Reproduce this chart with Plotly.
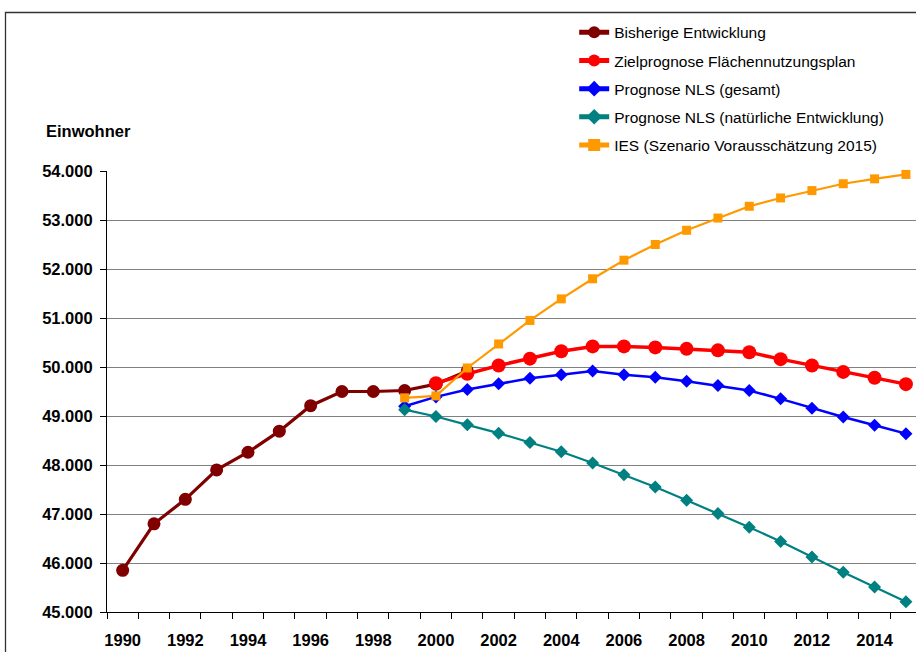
import plotly.graph_objects as go

# Population history and forecasts (inhabitants per year)
years_hist = list(range(1990, 2002))
hist = [45850, 46800, 47300, 47900, 48260, 48690, 49210, 49500, 49500, 49520, 49650, 49920]

years_ziel = list(range(2000, 2016))
ziel = [49670, 49860, 50030, 50170, 50320, 50420, 50420, 50400, 50370, 50340,
        50300, 50160, 50030, 49900, 49780, 49650]

years_nls = list(range(1999, 2016))
nls_total = [49200, 49390, 49540, 49660, 49770, 49840, 49920, 49840, 49790, 49710,
             49620, 49520, 49350, 49160, 48980, 48810, 48640]
nls_natural = [49130, 48990, 48820, 48650, 48460, 48270, 48040, 47800, 47550, 47280,
               47010, 46730, 46440, 46120, 45810, 45510, 45210]

years_ies = list(range(1999, 2016))
ies = [49370, 49410, 49980, 50470, 50950, 51390, 51800, 52180, 52500, 52790,
       53040, 53280, 53450, 53600, 53740, 53840, 53930]

x_ticks = list(range(1990, 2016, 2))
y_ticks = list(range(45000, 54001, 1000))

FONT = "Arial, Liberation Sans, sans-serif"

fig = go.Figure()

series = [
    ("Bisherige Entwicklung", years_hist, hist, "#800000", 3.2, "circle", 13),
    ("Zielprognose Flächennutzungsplan", years_ziel, ziel, "#FF0000", 3.5, "circle", 14),
    ("Prognose NLS (gesamt)", years_nls, nls_total, "#0000FF", 2.5, "diamond", 10),
    ("Prognose NLS (natürliche Entwicklung)", years_nls, nls_natural, "#008080", 2.2, "diamond", 10),
    ("IES (Szenario Vorausschätzung 2015)", years_ies, ies, "#FF9900", 2.2, "square", 9),
]
for i, (name, xs, ys, color, lw, sym, ms) in enumerate(series):
    fig.add_trace(go.Scatter(
        x=xs, y=ys, name=name, mode="lines+markers", legendgroup=f"g{i}",
        line=dict(color=color, width=lw),
        marker=dict(symbol=sym, size=ms, color=color),
        cliponaxis=False,
    ))

# category-style x axis: labels on even years, tick marks between years
minor_vals = [y - 0.5 for y in range(1990, 2017)]

fig.update_layout(
    width=916, height=652,
    margin=dict(l=107, r=0, t=171, b=40),
    paper_bgcolor="white", plot_bgcolor="white",
    separators=",.",
    font=dict(family=FONT, color="black"),
    showlegend=True,
    legend=dict(
        x=0.5775, xanchor="left", y=1.352, yanchor="top",
        font=dict(size=15.5, family=FONT, color="black"),
        bgcolor="rgba(0,0,0,0)", tracegroupgap=5, traceorder="grouped",
        itemsizing="constant",
    ),
    xaxis=dict(
        range=[1989.5, 1989.5 + 809 / 31.33],
        tickmode="array", tickvals=x_ticks, ticktext=[str(v) for v in x_ticks],
        ticks="", showgrid=False, zeroline=False,
        showline=True, linecolor="black", linewidth=1.2,
        tickfont=dict(size=16.5, family=FONT, color="black", weight="bold"),
        ticklabelstandoff=13,
        minor=dict(tickmode="array", tickvals=minor_vals, ticks="outside",
                   ticklen=6, tickcolor="black", tickwidth=1, showgrid=False),
    ),
    yaxis=dict(
        range=[45000, 54000],
        tickmode="array", tickvals=y_ticks, tickformat=",d",
        ticks="outside", ticklen=6, tickcolor="black",
        showgrid=True, gridcolor="#808080", gridwidth=1.2,
        zeroline=False, showline=True, linecolor="black", linewidth=1.2,
        tickfont=dict(size=16.5, family=FONT, color="black", weight="bold"),
        ticklabelstandoff=4,
    ),
)

fig.add_annotation(
    text="<b>Einwohner</b>", xref="paper", yref="paper",
    x=(88 - 107) / 809, y=(612 - 131) / 441, xanchor="center", yanchor="middle",
    showarrow=False, font=dict(size=16.5, family=FONT, color="black"),
)

# outer chart frame
fig.add_shape(
    type="rect", xref="paper", yref="paper",
    x0=(5.5 - 107) / 809, x1=1.2, y0=-0.3, y1=(612 - 12.5) / 441,
    line=dict(color="#333333", width=1.3), fillcolor="rgba(0,0,0,0)", layer="below",
)

fig.write_html("out.html")
